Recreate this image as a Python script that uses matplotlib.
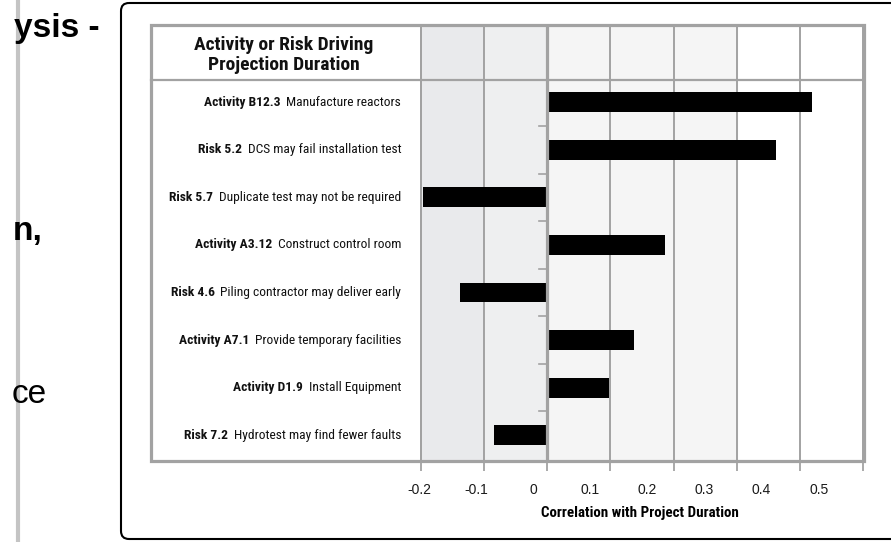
import matplotlib
matplotlib.use("Agg")
import matplotlib.pyplot as plt
from matplotlib.patches import Rectangle, FancyBboxPatch

# datos del grafico (de arriba hacia abajo)
etiquetas_neg = ["Activity B12.3", "Risk 5.2", "Risk 5.7", "Activity A3.12",
                 "Risk 4.6", "Activity A7.1", "Activity D1.9", "Risk 7.2"]
etiquetas_desc = ["Manufacture reactors", "DCS may fail installation test",
                  "Duplicate test may not be required", "Construct control room",
                  "Piling contractor may deliver early", "Provide temporary facilities",
                  "Install Equipment", "Hydrotest may find fewer faults"]
correlacion = [0.42, 0.363, -0.197, 0.187, -0.138, 0.138, 0.097, -0.084]
ticks_x = [-0.2, -0.1, 0, 0.1, 0.2, 0.3, 0.4, 0.5]
ticks_txt = ["-0.2", "-0.1", "0", "0.1", "0.2", "0.3", "0.4", "0.5"]

W, H = 891, 542
fuente_narrow = ["Roboto Condensed", "DejaVu Sans"]
gris = "#a2a2a2"

fig = plt.figure(figsize=(W / 100, H / 100), dpi=100)
fig.patch.set_facecolor("white")

# eje principal del grafico (incluye la fila de encabezado)
x0 = -0.205
izq = 421 + (x0 + 0.2) * 631.4
ax = fig.add_axes([izq / W, (H - 461) / H, (863 - izq) / W, (461 - 25) / H])
ax.set_xlim(x0, 0.5)
ax.set_ylim(7.54, -1.62)
for s in ax.spines.values():
  s.set_visible(False)

# sombreado de fondo
ax.axvspan(-0.2, -0.1, color="#e9eaec", zorder=0)
ax.axvspan(-0.1, 0, color="#eeeff0", zorder=0)
ax.axvspan(0, 0.3, color="#f5f5f5", zorder=0)

pos = list(range(len(correlacion)))
ax.barh(pos, correlacion, height=0.42, color="black", zorder=2)

for t in ticks_x:
  if t == 0:
    ax.axvline(t, color=gris, lw=2.3, zorder=3)
  else:
    ax.axvline(t, color=gris, lw=1.4, zorder=1)

# marcas pequeñas entre filas sobre el cero
for i in range(len(pos) - 1):
  ax.plot([-0.013, 0], [i + 0.5, i + 0.5], color=gris, lw=1.2, zorder=3)

ax.set_xticks(ticks_x)
ax.set_xticklabels([])
ax.tick_params(axis="x", direction="out", length=7, width=1.3, color=gris)
ax.set_yticks([])

# etiquetas del eje x (desplazadas como en la imagen original)
def a_sec(m):
  return ((m + 0.2) * 631.4 + 2) / 571 - 0.2

def de_sec(s):
  return ((s + 0.2) * 571 - 2) / 631.4 - 0.2

sec = ax.secondary_xaxis("bottom", functions=(a_sec, de_sec))
sec.set_xticks(ticks_x)
sec.set_xticklabels(ticks_txt, fontsize=10, color="#1a1a1a", family="Liberation Sans")
sec.tick_params(length=0, pad=16)
sec.spines["bottom"].set_visible(False)
sec.set_xlabel("Correlation with Project Duration", fontsize=10.8, fontweight="bold",
               family=fuente_narrow, labelpad=6)

# etiquetas de las filas: parte en negrita + descripcion
for i in pos:
  t = ax.annotate(etiquetas_desc[i], xy=(420 / W, i), xycoords=("figure fraction", "data"),
                  xytext=(-13.5, 0), textcoords="offset points", ha="right", va="center",
                  fontsize=9.7, family=fuente_narrow, color="#111111")
  ax.annotate(etiquetas_neg[i], xy=(0, 0.5), xycoords=t, xytext=(-4, 0),
              textcoords="offset points", ha="right", va="center",
              fontsize=9.7, fontweight="bold", family=fuente_narrow, color="#111111")

# capa superior: marco del grafico, encabezado y diapositiva
ov = fig.add_axes([0, 0, 1, 1], zorder=10)
ov.set_xlim(0, W)
ov.set_ylim(H, 0)
ov.axis("off")
ov.patch.set_alpha(0)

ov.add_patch(Rectangle((151, 25), 713, 436, fill=False, edgecolor=gris, lw=2.3))
ov.plot([151, 864], [80, 80], color=gris, lw=1.6)
ov.plot([421, 421], [25, 461], color=gris, lw=1.4)
ov.text(284, 50, "Activity or Risk Driving", ha="center", va="baseline",
        fontsize=14, fontweight="bold", family=fuente_narrow, color="#111111")
ov.text(284, 70, "Projection Duration", ha="center", va="baseline",
        fontsize=14, fontweight="bold", family=fuente_narrow, color="#111111")

# marco redondeado de la diapositiva
ov.add_patch(FancyBboxPatch((121, 3), 800, 536, boxstyle="round,pad=0,rounding_size=8",
                            fill=False, edgecolor="black", lw=1.5))

# borde gris izquierdo y texto recortado
ov.plot([18, 18], [0, H], color="#c4c4c4", lw=3)
recorte = Rectangle((20, 0), 100, H, transform=ov.transData)
textos = [(100, 37, "ysis -", "bold"), (43, 240, "n,", "bold"), (47, 403, "ce", "normal")]
for x, y, s, peso in textos:
  tx = ov.text(x, y, s, ha="right", va="baseline", fontsize=24, fontweight=peso,
               family="Liberation Sans", color="black")
  tx.set_clip_path(recorte)

fig.savefig("out.png", dpi=100)
